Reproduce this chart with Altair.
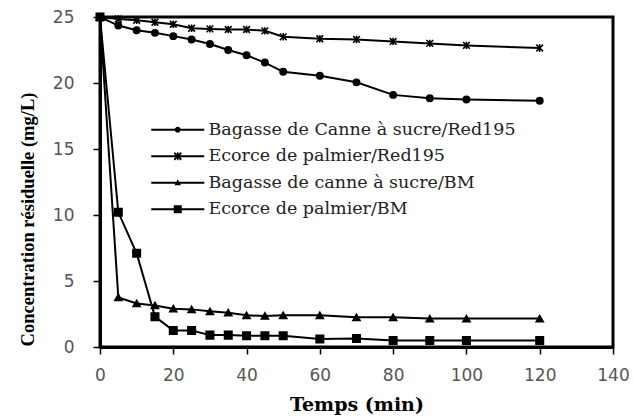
import altair as alt
import pandas as pd

# Sampling times (min)
times = [0, 5, 10, 15, 20, 25, 30, 35, 40, 45, 50, 60, 70, 80, 90, 100, 120]

# Residual concentration (mg/L) for each adsorbent / dye pair
bagasse_red195 = [25, 24.35, 24.0, 23.8, 23.55, 23.3, 22.95, 22.5, 22.1, 21.55,
                  20.85, 20.55, 20.05, 19.1, 18.85, 18.75, 18.65]
ecorce_red195 = [25, 24.85, 24.75, 24.6, 24.45, 24.15, 24.1, 24.05, 24.05, 23.95,
                 23.5, 23.35, 23.3, 23.15, 23.0, 22.85, 22.65]
bagasse_bm = [25, 3.75, 3.3, 3.15, 2.9, 2.85, 2.7, 2.6, 2.4, 2.35,
              2.4, 2.4, 2.25, 2.25, 2.15, 2.15, 2.15]
ecorce_bm = [25, 10.2, 7.1, 2.3, 1.25, 1.25, 0.9, 0.9, 0.85, 0.85,
             0.85, 0.6, 0.65, 0.5, 0.5, 0.5, 0.5]

series_names = [
    "Bagasse de  Canne à sucre/Red195",
    "Ecorce de palmier/Red195",
    "Bagasse de  canne à sucre/BM",
    "Ecorce de palmier/BM",
]
series_values = [bagasse_red195, ecorce_red195, bagasse_bm, ecorce_bm]

rows = []
for name, vals in zip(series_names, series_values):
    for t, v in zip(times, vals):
        rows.append({"temps": t, "conc": v, "serie": name})
df = pd.DataFrame(rows)

# Marker shapes on the curves
star = "M-1,-1L1,1M-1,1L1,-1M0,-1.1V1.1"
marker_shapes = ["circle", star, "triangle-up", "square"]
marker_sizes = [40, 55, 35, 90]

# Legend symbols: a short line segment (thin bar) with the marker in its middle.
# Every sub-path is filled and wound the same way so overlaps stay solid.
seg = "M-5.3,-0.2H5.3V0.2H-5.3Z"
star_fill = (
    "M-0.57,-0.83L0.83,0.57L0.57,0.83L-0.83,-0.57Z"
    "M-0.83,0.57L0.57,-0.83L0.83,-0.57L-0.57,0.83Z"
    "M-0.15,-0.8H0.15V0.8H-0.15Z"
)
legend_shapes = [
    seg + "M0.6,0A0.6,0.6,0,1,1,-0.6,0A0.6,0.6,0,1,1,0.6,0Z",
    seg + star_fill,
    seg + "M0,-0.7L0.65,0.5H-0.65Z",
    seg + "M-0.8,-0.8H0.8V0.8H-0.8Z",
]

x_enc = alt.X(
    "temps:Q",
    scale=alt.Scale(domain=[0, 140], nice=False),
    axis=alt.Axis(values=list(range(0, 141, 20)), title="Temps (min)"),
)
y_enc = alt.Y(
    "conc:Q",
    scale=alt.Scale(domain=[0, 25], nice=False),
    axis=alt.Axis(values=list(range(0, 26, 5)),
                  title="Concentration résiduelle (mg/L)", titleY=202,
                  titleFont="Liberation Serif", titleFontSize=18.5),
)

base = alt.Chart(df)

lines = base.mark_line(color="black", strokeWidth=2).encode(
    x=x_enc, y=y_enc, detail="serie:N", order="temps:Q"
)

points = base.mark_point(fill="black", stroke="black", strokeWidth=1.6,
                         opacity=1).encode(
    x=x_enc,
    y=y_enc,
    shape=alt.Shape("serie:N",
                    scale=alt.Scale(domain=series_names, range=marker_shapes),
                    legend=None),
    size=alt.Size("serie:N",
                  scale=alt.Scale(domain=series_names, range=marker_sizes),
                  legend=None),
)

legend_layer = base.mark_point(filled=True, color="black", opacity=0).encode(
    x=x_enc,
    y=y_enc,
    shape=alt.Shape(
        "serie:N",
        scale=alt.Scale(domain=series_names, range=legend_shapes),
        legend=alt.Legend(
            title=None,
            orient="none",
            legendX=69,
            legendY=104,
            padding=0,
            symbolSize=100,
            symbolOpacity=1,
            symbolFillColor="black",
            symbolStrokeWidth=0,
            labelFont="DejaVu Serif",
            labelFontSize=17.5,
            labelColor="#222222",
            labelOffset=22,
            labelLimit=400,
            rowPadding=7.5,
        ),
    ),
)

chart = (
    alt.layer(lines, points, legend_layer)
    .resolve_scale(shape="independent")
    .properties(
        width=513,
        height=330,
        autosize=alt.AutoSizeParams(type="none"),
        padding={"left": 100, "top": 17, "right": 21, "bottom": 72},
    )
    .configure_view(stroke="black", strokeWidth=3)
    .configure_axis(
        grid=False,
        domainColor="black",
        domainWidth=3,
        tickColor="black",
        tickWidth=1.5,
        tickSize=7,
        labelFont="DejaVu Sans",
        labelFontSize=17,
        labelColor="#555555",
        labelPadding=13,
        labelFlush=False,
        titleFont="DejaVu Serif",
        titleFontSize=19,
        titleFontWeight="bold",
        titleColor="black",
    )
    .configure_axisY(titlePadding=15, labelPadding=19)
    .configure_axisX(titlePadding=12)
)

chart.save("out.html", embed_options={"renderer": "svg", "actions": False})
